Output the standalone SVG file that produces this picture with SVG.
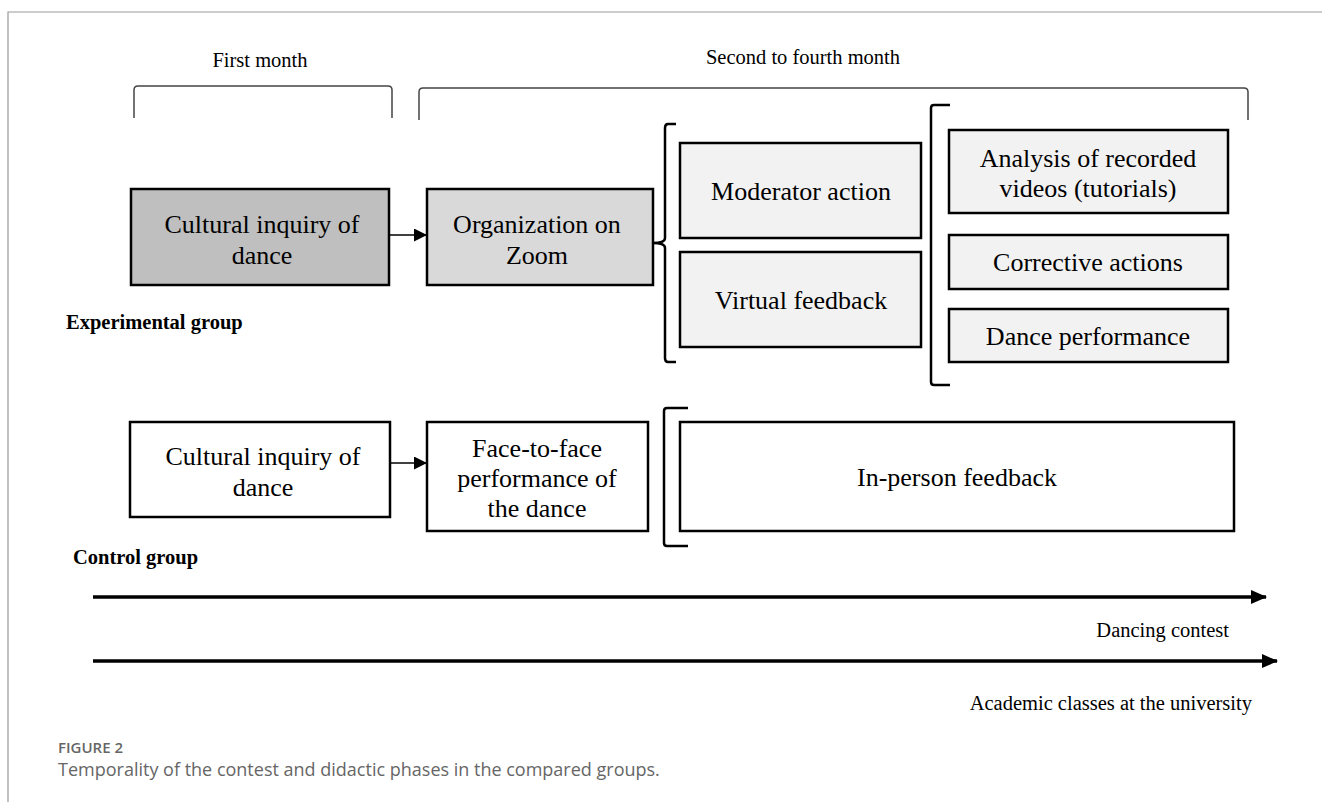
<svg xmlns="http://www.w3.org/2000/svg" width="1322" height="802" viewBox="0 0 1322 802">
<style>
  .serif { font-family: "Liberation Serif", "Times New Roman", serif; fill: #000; }
  .lbl { font-size: 20.5px; }
  .bold { font-size: 20.5px; font-weight: bold; }
  .box { stroke: #000; stroke-width: 2.5; }
  .bt { font-size: 26px; text-anchor: middle; }
  .brk { fill: none; stroke: #000; stroke-width: 2.5; }
  .top { fill: none; stroke: #444; stroke-width: 1.5; }
  .cap { font-family: "Open Sans", "Noto Sans", sans-serif; fill: #666; }
</style>
<defs>
  <marker id="ah" markerWidth="13" markerHeight="13" refX="12" refY="6.5" orient="auto" markerUnits="userSpaceOnUse" viewBox="0 0 13 13">
    <path d="M0,0 L13,6.5 L0,13 Z" fill="#000"/>
  </marker>
  <marker id="big" markerWidth="16" markerHeight="14" refX="15" refY="7" orient="auto" markerUnits="userSpaceOnUse" viewBox="0 0 16 14">
    <path d="M0,0 L16,7 L0,14 Z" fill="#000"/>
  </marker>
</defs>
<rect width="1322" height="802" fill="#fff"/>
<path d="M8,802 L8,12 L1322,12" fill="none" stroke="#999" stroke-width="1.2"/>

<g id="headers">
  <text class="serif lbl" x="260" y="67" text-anchor="middle">First month</text>
  <text class="serif lbl" x="803" y="64" text-anchor="middle">Second to fourth month</text>
  <path class="top" d="M134,118 L134,90 Q134,86 138,86 L388,86 Q392,86 392,90 L392,118"/>
  <path class="top" d="M419,120 L419,92 Q419,88 423,88 L1244,88 Q1248,88 1248,92 L1248,120"/>
</g>

<g id="exp-cultural">
  <rect class="box" x="131" y="189" width="258" height="96" fill="#bfbfbf"/>
  <text class="serif bt" x="262" y="233">Cultural inquiry of</text>
  <text class="serif bt" x="262" y="264">dance</text>
</g>
<g id="exp-zoom">
  <rect class="box" x="427" y="189" width="226" height="96" fill="#d9d9d9"/>
  <text class="serif bt" x="537" y="233">Organization on</text>
  <text class="serif bt" x="537" y="264">Zoom</text>
</g>
<g id="exp-moderator">
  <rect class="box" x="680" y="143" width="241" height="95" fill="#f2f2f2"/>
  <text class="serif bt" x="801" y="200">Moderator action</text>
</g>
<g id="exp-virtual">
  <rect class="box" x="680" y="252" width="241" height="95" fill="#f2f2f2"/>
  <text class="serif bt" x="801" y="309">Virtual feedback</text>
</g>
<g id="exp-analysis">
  <rect class="box" x="949" y="130" width="279" height="83" fill="#f2f2f2"/>
  <text class="serif bt" x="1088" y="167">Analysis of recorded</text>
  <text class="serif bt" x="1088" y="197">videos (tutorials)</text>
</g>
<g id="exp-corrective">
  <rect class="box" x="949" y="235" width="279" height="54" fill="#f2f2f2"/>
  <text class="serif bt" x="1088" y="271">Corrective actions</text>
</g>
<g id="exp-dance">
  <rect class="box" x="949" y="309" width="279" height="53" fill="#f2f2f2"/>
  <text class="serif bt" x="1088" y="345">Dance performance</text>
</g>
<text class="serif bold" x="66" y="329">Experimental group</text>

<g id="ctl-cultural">
  <rect class="box" x="130" y="422" width="260" height="95" fill="#fff"/>
  <text class="serif bt" x="263" y="465">Cultural inquiry of</text>
  <text class="serif bt" x="263" y="496">dance</text>
</g>
<g id="ctl-face">
  <rect class="box" x="427" y="422" width="221" height="109" fill="#fff"/>
  <text class="serif bt" x="537" y="457">Face-to-face</text>
  <text class="serif bt" x="537" y="487">performance of</text>
  <text class="serif bt" x="537" y="517">the dance</text>
</g>
<g id="ctl-inperson">
  <rect class="box" x="680" y="422" width="554" height="109" fill="#fff"/>
  <text class="serif bt" x="957" y="486">In-person feedback</text>
</g>
<text class="serif bold" x="73" y="564">Control group</text>

<g id="connectors">
  <line x1="389" y1="235" x2="426" y2="235" stroke="#000" stroke-width="1.5" marker-end="url(#ah)"/>
  <line x1="390" y1="463" x2="426" y2="463" stroke="#000" stroke-width="1.5" marker-end="url(#ah)"/>
  <path class="brk" d="M676,124 L668,124 Q665,124 665,128 L665,238 Q665,243 653,243 Q665,243 665,248 L665,358 Q665,362 668,362 L676,362"/>
  <path class="brk" d="M950,105 L934,105 Q931,105 931,108 L931,382 Q931,385 934,385 L950,385"/>
  <path class="brk" d="M688,408 L667,408 Q664,408 664,411 L664,543 Q664,546 667,546 L688,546"/>
  <line x1="93" y1="597" x2="1266" y2="597" stroke="#000" stroke-width="3.5" marker-end="url(#big)"/>
  <line x1="93" y1="661" x2="1277" y2="661" stroke="#000" stroke-width="3.5" marker-end="url(#big)"/>
</g>
<text class="serif lbl" x="1229" y="637" text-anchor="end">Dancing contest</text>
<text class="serif lbl" x="1252" y="710" text-anchor="end">Academic classes at the university</text>

<text class="cap" x="58" y="753" font-size="15" font-weight="600">FIGURE 2</text>
<text class="cap" x="58" y="776" font-size="18">Temporality of the contest and didactic phases in the compared groups.</text>
</svg>
